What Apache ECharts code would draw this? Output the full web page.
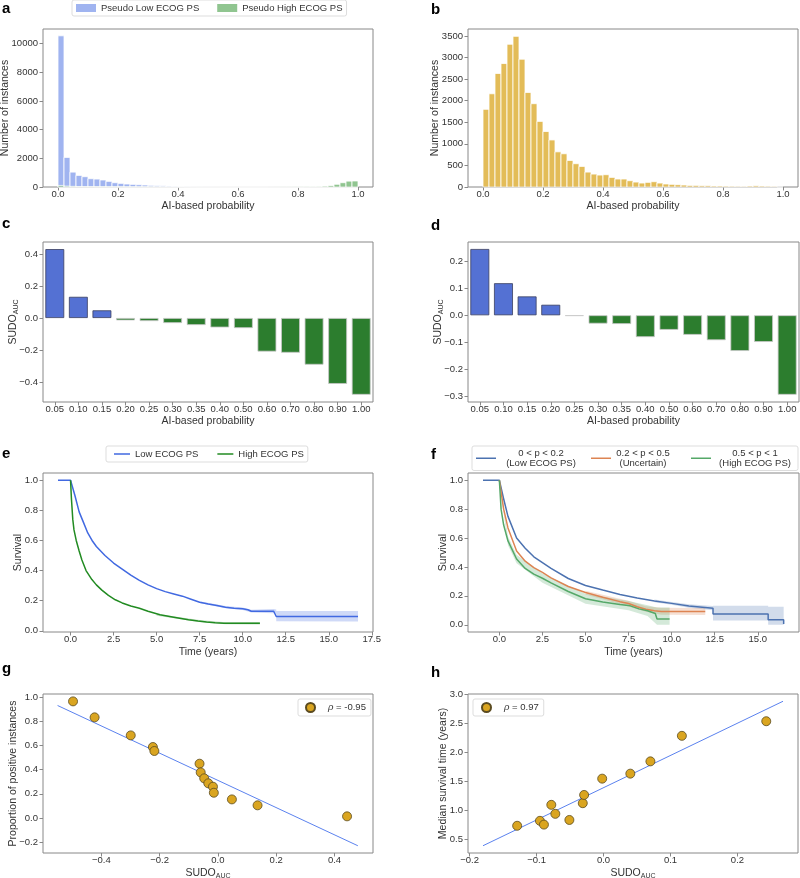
<!DOCTYPE html>
<html>
<head>
<meta charset="UTF-8">
<title>SUDO ECOG PS</title>
<script src="https://cdn.jsdelivr.net/npm/echarts@6/dist/echarts.min.js"></script>
<style>
  html, body { margin: 0; padding: 0; background: #fff; }
  #main { width: 800px; height: 878px; }
</style>
</head>
<body>
<div id="main"></div>
<script>
// ---- data ----
var binW = 0.02;
// a: histogram of AI-based probability, pseudo labels
var histLow = [10550, 2065, 1040, 810, 720, 580, 555, 490, 395, 300, 255, 210, 185, 160, 140, 115, 95, 80, 65, 50,
  30, 20, 12, 8, 5, 3, 2, 0, 0, 0, 0, 0, 0, 0, 0, 0, 0, 0, 0, 0, 0, 0, 0, 0, 0, 0, 0, 0, 0, 0];
var histHigh = [110, 60, 45, 35, 30, 28, 25, 22, 20, 18, 15, 12, 10, 8, 6, 5, 4, 3, 2, 2,
  0, 0, 0, 0, 0, 0, 0, 0, 0, 0, 0, 0, 0, 0, 0, 3, 5, 8, 10, 12, 15, 20, 30, 40, 60, 100, 190, 300, 410, 420];
// b: histogram of all instances
var histAll = [1800, 2160, 2630, 2860, 3307, 3490, 2960, 2190, 1930, 1520, 1285, 1090, 815, 770, 615, 540, 477, 346, 300, 277,
  285, 223, 185, 185, 146, 115, 92, 108, 123, 92, 70, 62, 54, 46, 38, 38, 30, 30, 23, 23,
  20, 18, 16, 15, 22, 28, 22, 18, 15, 0];
// c, d: SUDO per probability bin
var probCats = ['0.05', '0.10', '0.15', '0.20', '0.25', '0.30', '0.35', '0.40', '0.50', '0.60', '0.70', '0.80', '0.90', '1.00'];
var sudoC = [0.431, 0.1325, 0.048, -0.015, -0.019, -0.0315, -0.044, -0.059, -0.063, -0.21, -0.217, -0.292, -0.412, -0.48];
var sudoD = [0.246, 0.119, 0.07, 0.039, -0.0025, -0.031, -0.0325, -0.081, -0.054, -0.0725, -0.0925, -0.1325, -0.099, -0.295];
// e: Kaplan-Meier curves
var eLowT = [-0.73, 0, 0.1, 0.25, 0.5, 0.75, 1.0, 1.25, 1.5, 2.0, 2.5, 3.0, 3.5, 4.0, 4.5, 5.0, 5.5, 6.0, 6.5, 7.0, 7.5, 8.0, 8.5, 9.0, 9.5, 10.0, 10.3, 10.5, 11.8, 11.9, 11.95, 16.7];
var eLowS = [1.0, 1.0, 0.96, 0.9, 0.79, 0.72, 0.65, 0.6, 0.56, 0.5, 0.45, 0.41, 0.37, 0.335, 0.305, 0.28, 0.26, 0.245, 0.23, 0.21, 0.19, 0.178, 0.168, 0.157, 0.15, 0.146, 0.14, 0.13, 0.13, 0.125, 0.095, 0.095];
var eHighT = [0, 0.05, 0.13, 0.2, 0.33, 0.5, 0.66, 0.9, 1.24, 1.5, 1.82, 2.2, 2.6, 3.0, 3.5, 4.0, 4.5, 5.2, 6.0, 6.85, 7.4, 7.9, 8.4, 8.9, 11.0];
var eHighS = [1.0, 0.88, 0.74, 0.67, 0.6, 0.53, 0.47, 0.4, 0.34, 0.305, 0.27, 0.235, 0.206, 0.185, 0.165, 0.15, 0.13, 0.106, 0.09, 0.073, 0.065, 0.058, 0.053, 0.05, 0.05];
var eLowBand = [[7.5, 0.184, 0.196], [9.0, 0.15, 0.164], [10.0, 0.138, 0.154], [10.5, 0.121, 0.139], [11.8, 0.116, 0.144], [11.95, 0.112, 0.142], [11.95, 0.063, 0.132], [16.7, 0.062, 0.132]];
var eHighBand = [[5.0, 0.1, 0.112], [7.5, 0.058, 0.072], [9.0, 0.043, 0.057], [11.0, 0.041, 0.059]];
// f: Kaplan-Meier curves, three probability groups
var fLowT = [-0.95, 0, 0.25, 0.5, 1.0, 1.5, 2.0, 2.5, 3.0, 4.0, 5.0, 6.0, 7.0, 8.0, 9.0, 10.0, 11.0, 12.4, 12.4, 15.6, 15.6, 16.5, 16.5];
var fLowS = [1, 1, 0.87, 0.75, 0.6, 0.53, 0.47, 0.43, 0.39, 0.32, 0.272, 0.24, 0.21, 0.185, 0.165, 0.148, 0.13, 0.115, 0.075, 0.075, 0.035, 0.035, 0.005];
var fMidT = [0, 0.25, 0.5, 1.0, 1.5, 2.0, 2.5, 3.0, 4.0, 5.0, 6.0, 7.0, 7.5, 8.0, 8.5, 9.0, 9.4, 11.95];
var fMidS = [1, 0.8, 0.67, 0.51, 0.44, 0.395, 0.362, 0.325, 0.265, 0.223, 0.19, 0.16, 0.147, 0.125, 0.108, 0.097, 0.092, 0.092];
var fHighT = [0, 0.1, 0.25, 0.5, 1.0, 1.5, 2.0, 2.5, 3.0, 4.0, 5.0, 6.0, 7.0, 7.6, 8.1, 8.6, 9.05, 9.15, 9.88];
var fHighS = [1, 0.8, 0.69, 0.58, 0.455, 0.39, 0.35, 0.322, 0.29, 0.23, 0.18, 0.158, 0.14, 0.131, 0.11, 0.097, 0.078, 0.04, 0.04];
var fLowBand = [[9.0, 0.155, 0.175], [10.0, 0.138, 0.158], [11.0, 0.118, 0.142], [12.4, 0.1, 0.13], [12.4, 0.03, 0.132], [15.6, 0.03, 0.132], [15.6, 0.0, 0.125], [16.5, 0.0, 0.125]];
var fMidBand = [[5.0, 0.21, 0.236], [7.5, 0.127, 0.167], [8.5, 0.09, 0.128], [9.4, 0.07, 0.118], [11.95, 0.068, 0.116]];
var fHighBand = [[0, 1, 1], [0.5, 0.55, 0.61], [1.0, 0.425, 0.485], [2.5, 0.29, 0.355], [5.0, 0.145, 0.215], [7.5, 0.1, 0.165], [8.6, 0.06, 0.135], [9.15, 0.0, 0.12], [9.88, 0.0, 0.12]];
// g, h: SUDO vs outcome
var gX = [-0.497, -0.423, -0.299, -0.223, -0.218, -0.063, -0.059, -0.047, -0.033, -0.017, -0.014, 0.048, 0.136, 0.443];
var gY = [0.964, 0.832, 0.683, 0.587, 0.554, 0.449, 0.377, 0.328, 0.287, 0.259, 0.209, 0.154, 0.105, 0.014];
var gFitX = [-0.55, 0.48];
var gFitY = [0.93, -0.229];
var hX = [-0.129, -0.095, -0.089, -0.078, -0.072, -0.051, -0.031, -0.029, -0.002, 0.040, 0.070, 0.117, 0.243];
var hY = [0.74, 0.825, 0.76, 1.10, 0.945, 0.84, 1.128, 1.27, 1.55, 1.636, 1.847, 2.286, 2.537];
var hFitX = [-0.18, 0.268];
var hFitY = [0.397, 2.88];

// tick labels
var probTicks = [0, 0.2, 0.4, 0.6, 0.8, 1.0];
var countTicksA = [0, 2000, 4000, 6000, 8000, 10000];
var countTicksB = [0, 500, 1000, 1500, 2000, 2500, 3000, 3500];
var sudoTicksC = [-0.4, -0.2, 0, 0.2, 0.4];
var sudoTicksD = [-0.3, -0.2, -0.1, 0, 0.1, 0.2];
var timeTicksE = [0, 2.5, 5, 7.5, 10, 12.5, 15, 17.5];
var timeTicksF = [0, 2.5, 5, 7.5, 10, 12.5, 15];
var survTicks = [0, 0.2, 0.4, 0.6, 0.8, 1.0];
var gTicksX = [-0.4, -0.2, 0, 0.2, 0.4];
var gTicksY = [-0.2, 0, 0.2, 0.4, 0.6, 0.8, 1.0];
var hTicksX = [-0.2, -0.1, 0, 0.1, 0.2];
var hTicksY = [0.5, 1.0, 1.5, 2.0, 2.5, 3.0];

// ---- styling ----
var font = '"Liberation Sans", Arial, sans-serif';
var txt = '#333';
var frame = '#888';
var blueA = 'rgba(65,105,225,0.5)', greenA = 'rgba(34,139,34,0.5)', gold = 'rgba(218,165,32,0.75)';
var barBlue = '#5471d3', barGreen = '#2c7d2e';
var eBlue = '#4169e1', eGreen = '#228b22';
var fBlue = '#4c72b0', fOrange = '#dd8452', fGreen = '#55a868';

function zip(a, b) { return a.map(function (v, i) { return [v, b[i]]; }); }
function fmt(d) {
  return function (v) { return (v < -1e-9 ? '\u2212' : '') + Math.abs(v).toFixed(d); };
}
var sudoName = '{m|SUDO}{s|AUC}';
var sudoRich = {
  m: { fontSize: 10.5, color: txt, fontFamily: font, lineHeight: 12, verticalAlign: 'top' },
  s: { fontSize: 7, color: txt, fontFamily: font, lineHeight: 8, padding: [6, 0, 0, 0], verticalAlign: 'bottom' }
};

// margin: x-axis labels sit close to the frame, y-axis labels a bit further off
function vAxis(gi, min, max, ticks, d, name, gap, rich, margin) {
  return {
    type: 'value', gridIndex: gi, min: min, max: max,
    axisLine: { show: false, onZero: false }, splitLine: { show: false },
    axisTick: { show: true, length: 3.5, lineStyle: { color: frame }, customValues: ticks },
    axisLabel: { fontSize: 9.5, color: txt, fontFamily: font, margin: margin, customValues: ticks, formatter: fmt(d) },
    name: name, nameLocation: 'middle', nameGap: gap, nameMoveOverlap: false,
    nameTextStyle: { fontSize: 10.5, color: txt, fontFamily: font, rich: rich }
  };
}
function xAx(gi, min, max, ticks, d, name, gap, rich) { return vAxis(gi, min, max, ticks, d, name, gap, rich, 2); }
function yAx(gi, min, max, ticks, d, name, gap, rich) { return vAxis(gi, min, max, ticks, d, name, gap, rich, 5); }
function cAxis(gi) {
  return {
    type: 'category', gridIndex: gi, data: probCats,
    axisLine: { show: false, onZero: false }, splitLine: { show: false },
    axisTick: { show: true, length: 3.5, alignWithLabel: true, lineStyle: { color: frame } },
    axisLabel: { fontSize: 9.5, color: txt, fontFamily: font, margin: 2, interval: 0 },
    name: 'AI-based probability', nameLocation: 'middle', nameGap: 14, nameMoveOverlap: false,
    nameTextStyle: { fontSize: 10.5, color: txt, fontFamily: font }
  };
}

function histSeries(name, counts, color, gi) {
  return {
    type: 'custom', name: name, xAxisIndex: gi, yAxisIndex: gi,
    itemStyle: { color: color },
    data: counts.map(function (c, i) { return [i * binW, (i + 1) * binW, c]; }),
    encode: { x: [0, 1], y: 2 },
    renderItem: function (params, api) {
      var p0 = api.coord([api.value(0), api.value(2)]);
      var p1 = api.coord([api.value(1), 0]);
      return {
        type: 'rect',
        shape: { x: p0[0], y: p0[1], width: p1[0] - p0[0], height: p1[1] - p0[1] },
        style: { fill: color, stroke: '#fff', lineWidth: 0.8 }
      };
    }
  };
}
function bandSeries(band, color, gi) {
  return {
    type: 'custom', xAxisIndex: gi, yAxisIndex: gi, silent: true, z: 1,
    data: band, encode: { x: 0, y: [1, 2] },
    renderItem: function (params, api) {
      if (params.dataIndex !== 0) return null;
      var pts = [];
      band.forEach(function (r) { pts.push(api.coord([r[0], r[2]])); });
      for (var i = band.length - 1; i >= 0; i--) pts.push(api.coord([band[i][0], band[i][1]]));
      return { type: 'polygon', shape: { points: pts }, style: { fill: color } };
    }
  };
}
function kmSeries(name, t, s, color, gi) {
  return {
    type: 'line', name: name, xAxisIndex: gi, yAxisIndex: gi, z: 3,
    data: zip(t, s), showSymbol: false, symbol: 'none',
    itemStyle: { color: color }, lineStyle: { color: color, width: 1.5 }
  };
}
function sudoBars(vals, gi) {
  return {
    type: 'bar', xAxisIndex: gi, yAxisIndex: gi, barCategoryGap: '20%',
    data: vals.map(function (v) {
      return { value: v, itemStyle: v > 0 ? { color: barBlue, borderColor: '#3a3f60', borderWidth: 0.8 } : { color: barGreen, borderColor: '#c8c8c8', borderWidth: 0.8 } };
    })
  };
}
function scatterSeries(name, xs, ys, gi) {
  return {
    type: 'scatter', name: name, xAxisIndex: gi, yAxisIndex: gi, z: 4,
    data: zip(xs, ys), symbolSize: 9,
    itemStyle: { color: '#daa520', borderColor: '#5b4b20', borderWidth: 0.8, opacity: 1 }
  };
}
function fitSeries(xs, ys, gi) {
  return {
    type: 'line', xAxisIndex: gi, yAxisIndex: gi, z: 3, data: zip(xs, ys),
    showSymbol: false, symbol: 'none', lineStyle: { color: '#5b82ef', width: 1 }
  };
}

var gridBase = { show: true, borderColor: frame, borderWidth: 1, containLabel: false, outerBoundsMode: 'none' };
var grids = [
  { left: 43, top: 29, width: 330, height: 158 },
  { left: 468, top: 29, width: 330, height: 158 },
  { left: 43, top: 242, width: 330, height: 160 },
  { left: 468, top: 242, width: 331, height: 160 },
  { left: 43, top: 473, width: 330, height: 159 },
  { left: 468, top: 473, width: 331, height: 159 },
  { left: 43, top: 694, width: 330, height: 159 },
  { left: 468, top: 694, width: 330, height: 159 }
].map(function (g) { return Object.assign({}, gridBase, g); });

var legendText = { fontSize: 9.5, color: txt, fontFamily: font };
var fLegend = {
  fLow: ['w1', '0 < p < 0.2', '(Low ECOG PS)'],
  fMid: ['w2', '0.2 < p < 0.5', '(Uncertain)'],
  fHigh: ['w3', '0.5 < p < 1', '(High ECOG PS)']
};
function rhoLegend(val) {
  return function () { return '{i|\u03c1} = ' + val; };
}
var rhoRich = { i: { fontStyle: 'italic', fontSize: 9.5, color: txt, fontFamily: font, padding: [0, 0, 0, 8] } };

var letters = [['a', 2, 1], ['b', 431, 2], ['c', 2, 216], ['d', 431, 218.5], ['e', 2, 446], ['f', 431, 447], ['g', 2, 661.5], ['h', 431, 665]];

var option = {
  animation: false,
  backgroundColor: '#fff',
  grid: grids,
  graphic: letters.map(function (l) {
    return { type: 'text', left: l[1], top: l[2], style: { text: l[0], font: 'bold 15px ' + font, fill: '#000' } };
  }),
  legend: [
    { left: 72, top: 0, padding: [3, 4, 3, 4], icon: 'rect', itemWidth: 20, itemHeight: 8, itemGap: 18,
      borderColor: '#ddd', borderWidth: 1, borderRadius: 2, textStyle: legendText,
      data: ['Pseudo Low ECOG PS', 'Pseudo High ECOG PS'] },
    { left: 106, top: 446, padding: [3, 4, 3, 8], icon: 'rect', itemWidth: 16, itemHeight: 1.5, itemGap: 19,
      borderColor: '#ddd', borderWidth: 1, borderRadius: 2, textStyle: legendText,
      data: ['Low ECOG PS', 'High ECOG PS'] },
    { left: 472, top: 446, padding: [2, 4, 2, 4], icon: 'rect', itemWidth: 20, itemHeight: 1.5, itemGap: 10,
      borderColor: '#ddd', borderWidth: 1, borderRadius: 2,
      formatter: function (n) { var L = fLegend[n]; return '{' + L[0] + '|' + L[1] + '}\n{' + L[0] + '|' + L[2] + '}'; },
      textStyle: { fontSize: 9.5, color: txt, fontFamily: font, rich: {
        w1: { width: 80, align: 'center', fontSize: 9.5, lineHeight: 10.5, color: txt, fontFamily: font },
        w2: { width: 54, padding: [0, 11, 0, 0], align: 'center', fontSize: 9.5, lineHeight: 10.5, color: txt, fontFamily: font },
        w3: { width: 78, align: 'center', fontSize: 9.5, lineHeight: 10.5, color: txt, fontFamily: font }
      } },
      data: ['fLow', 'fMid', 'fHigh'] },
    { left: 298, top: 699, padding: [3, 5, 3, 7], icon: 'circle', itemWidth: 9, itemHeight: 9,
      borderColor: '#ddd', borderWidth: 1, borderRadius: 2, formatter: rhoLegend('-0.95'),
      textStyle: { fontSize: 9.5, color: txt, fontFamily: font, rich: rhoRich }, data: ['gPts'] },
    { left: 473, top: 699, padding: [3, 5, 3, 8], icon: 'circle', itemWidth: 9, itemHeight: 9,
      borderColor: '#ddd', borderWidth: 1, borderRadius: 2, formatter: rhoLegend('0.97'),
      textStyle: { fontSize: 9.5, color: txt, fontFamily: font, rich: rhoRich }, data: ['hPts'] }
  ],
  xAxis: [
    xAx(0, -0.05, 1.05, probTicks, 1, 'AI-based probability', 14),
    xAx(1, -0.05, 1.05, probTicks, 1, 'AI-based probability', 14),
    cAxis(2),
    cAxis(3),
    xAx(4, -1.6, 17.57, timeTicksE, 1, 'Time (years)', 15),
    xAx(5, -1.82, 17.39, timeTicksF, 1, 'Time (years)', 15),
    xAx(6, -0.60, 0.532, gTicksX, 1, sudoName, 14.5, sudoRich),
    xAx(7, -0.2024, 0.2904, hTicksX, 1, sudoName, 14.5, sudoRich)
  ],
  yAxis: [
    yAx(0, 0, 11025, countTicksA, 0, 'Number of instances', 32),
    yAx(1, 0, 3660, countTicksB, 0, 'Number of instances', 27),
    yAx(2, -0.5255, 0.4755, sudoTicksC, 1, sudoName, 23, sudoRich),
    yAx(3, -0.322, 0.272, sudoTicksD, 1, sudoName, 23, sudoRich),
    yAx(4, -0.008, 1.048, survTicks, 1, 'Survival', 19),
    yAx(5, -0.05, 1.05, survTicks, 1, 'Survival', 19),
    yAx(6, -0.289, 1.025, gTicksY, 1, 'Proportion of positive instances', 24),
    yAx(7, 0.272, 3.005, hTicksY, 1, 'Median survival time (years)', 19)
  ],
  series: [
    histSeries('Pseudo Low ECOG PS', histLow, blueA, 0),
    histSeries('Pseudo High ECOG PS', histHigh, greenA, 0),
    histSeries('All', histAll, gold, 1),
    sudoBars(sudoC, 2),
    sudoBars(sudoD, 3),
    bandSeries(eLowBand, 'rgba(65,105,225,0.25)', 4),
    bandSeries(eHighBand, 'rgba(34,139,34,0.25)', 4),
    kmSeries('Low ECOG PS', eLowT, eLowS, eBlue, 4),
    kmSeries('High ECOG PS', eHighT, eHighS, eGreen, 4),
    bandSeries(fLowBand, 'rgba(76,114,176,0.25)', 5),
    bandSeries(fMidBand, 'rgba(221,132,82,0.25)', 5),
    bandSeries(fHighBand, 'rgba(85,168,104,0.25)', 5),
    kmSeries('fLow', fLowT, fLowS, fBlue, 5),
    kmSeries('fMid', fMidT, fMidS, fOrange, 5),
    kmSeries('fHigh', fHighT, fHighS, fGreen, 5),
    fitSeries(gFitX, gFitY, 6),
    scatterSeries('gPts', gX, gY, 6),
    fitSeries(hFitX, hFitY, 7),
    scatterSeries('hPts', hX, hY, 7)
  ]
};

var chart = echarts.init(document.getElementById('main'), null, { renderer: 'canvas' });
chart.setOption(option);
</script>
</body>
</html>
